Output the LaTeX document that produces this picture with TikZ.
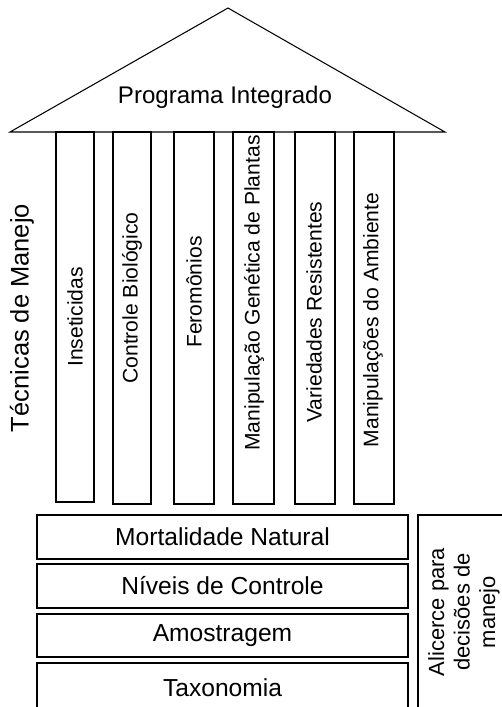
\documentclass[tikz,border=0pt]{standalone}
\usepackage{fontspec}
\setmainfont{Liberation Sans}
\usepackage{tikz}
\usetikzlibrary{positioning}
\tikzstyle{roof}=[draw=black,line width=0.6pt]
\tikzstyle{pillar}=[draw=black,line width=1pt]
\tikzstyle{plabel}=[rotate=90,font=\fontsize{12}{14}\selectfont,inner sep=0pt]
\tikzstyle{base}=[draw=black,line width=1pt,minimum width=7.42cm,font=\fontsize{14}{16}\selectfont]

\begin{document}
\begin{tikzpicture}[x=0.02cm,y=-0.02cm]
\useasboundingbox (0,0) rectangle (501,707);
% roof
\coordinate (r_l) at (10,132);
\coordinate (r_t) at (228,8);
\coordinate (r_r) at (445,132);
\draw[roof] (r_l) -- (r_t) -- (r_r) -- cycle;
\node[font=\fontsize{13.7}{16}\selectfont] (roof) at (225,97) {Programa Integrado};
% pillars
\draw[pillar] (56,132) rectangle (94,502);
\draw[pillar] (113,132) rectangle (151,504);
\draw[pillar] (174,132) rectangle (214,504);
\draw[pillar] (233,132) rectangle (274,504);
\draw[pillar] (295,132) rectangle (335,504);
\draw[pillar] (354,132) rectangle (394,504);
\node[plabel] (p1) at (75,317)  {Inseticidas};
\node[plabel] (p2) at (132,298) {Controle Biológico};
\node[plabel] (p3) at (194,292) {Feromônios};
\node[plabel] (p4) at (254,293) {Manipulação Genética de Plantas};
\node[plabel] (p5) at (314,312) {Variedades Resistentes};
\node[plabel] (p6) at (373,320) {Manipulações do Ambiente};
\node[plabel,font=\fontsize{14.5}{16}\selectfont] (tec) at (22,318) {Técnicas de Manejo};
% base
\node[base,minimum height=0.88cm] (b1) at (222.5,537) {Mortalidade Natural};
\node[base,minimum height=0.88cm] (b2) at (222.5,586) {Níveis de Controle};
\node[base,minimum height=0.86cm] (b3) at (222.5,635.5) {Amostragem};
\node[base,minimum height=0.98cm] (b4) at (222.5,687.5) {Taxonomia};
% side
\draw[pillar] (418,515) rectangle (512,712);
\node[rotate=90,align=center,font=\fontsize{12.5}{14.5}\selectfont] (alic) at (464,612) {Alicerce para\\decisões de\\manejo};
\end{tikzpicture}
\end{document}
